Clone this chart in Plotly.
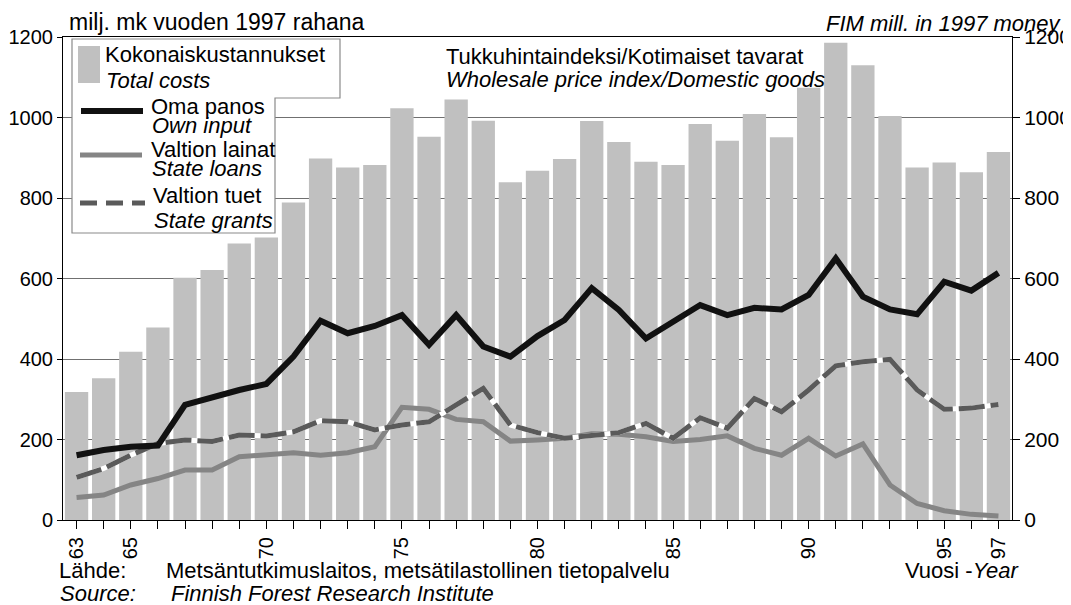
import plotly.graph_objects as go

# ---------------- data ----------------
years = list(range(63, 98))
tick_years = [63, 65, 70, 75, 80, 85, 90, 95, 97]

total_costs = [318, 352, 418, 478, 602, 621, 687, 702, 789, 898,
               876, 882, 1023, 952, 1045, 992, 839, 868, 897, 991,
               939, 890, 882, 984, 942, 1009, 951, 1074, 1186, 1130,
               1004, 876, 888, 864, 914]
own_input = [161, 174, 182, 185, 286, 306, 323, 338, 406, 495,
             464, 482, 509, 435, 509, 431, 406, 457, 497, 576,
             522, 451, 493, 534, 509, 527, 523, 559, 650, 555,
             523, 511, 592, 570, 614]
state_loans = [56, 62, 87, 103, 124, 124, 157, 161, 167, 161,
               167, 182, 280, 275, 250, 244, 196, 199, 203, 214,
               213, 207, 195, 200, 209, 178, 161, 203, 159, 189,
               87, 41, 23, 14, 10]
state_grants = [106, 128, 161, 190, 199, 195, 211, 209, 219, 247,
                244, 224, 236, 244, 286, 327, 236, 217, 203, 209,
                217, 240, 203, 254, 228, 302, 269, 323, 383, 393,
                399, 323, 275, 278, 287]

y_ticks = [0, 200, 400, 600, 800, 1000, 1200]

# ---------------- geometry ----------------
# the page body has an 8px default margin, so the figure is offset by 8px
OFF = 8
W, H = 1063, 597
L, R, T, B = 55, 59, 29, 85
PW, PH = W - L - R, H - T - B
FONT = "Liberation Sans, Arial, Helvetica, sans-serif"

def px(x):
    return (x - OFF - L) / PW

def py(y):
    return (H - B - (y - OFF)) / PH

BAR = "#c0c0c0"
BLACK = "#111111"
LOANS = "#858585"
GRANTS = "#5a5a5a"

fig = go.Figure()
fig.add_trace(go.Bar(x=years, y=total_costs, marker=dict(color=BAR, line=dict(width=0)),
                     yaxis="y", showlegend=False, hoverinfo="skip"))
fig.add_trace(go.Scatter(x=years, y=state_loans, mode="lines",
                         line=dict(color=LOANS, width=5), yaxis="y2", showlegend=False))
fig.add_trace(go.Scatter(x=years, y=state_grants, mode="lines",
                         line=dict(color="white", width=5), yaxis="y2", showlegend=False))
fig.add_trace(go.Scatter(x=years, y=state_grants, mode="lines",
                         line=dict(color=GRANTS, width=5, dash="26px,6px"), yaxis="y2", showlegend=False))
fig.add_trace(go.Scatter(x=years, y=own_input, mode="lines",
                         line=dict(color=BLACK, width=6), yaxis="y2", showlegend=False))

shapes = []
# stepped legend box
path = "M {a},{b} L {c},{b} L {c},{d} L {e},{d} L {e},{f} L {a},{f} Z".format(
    a=px(72), b=py(39), c=px(340), d=py(98), e=px(275), f=py(233))
shapes.append(dict(type="path", path=path, xref="paper", yref="paper",
                   fillcolor="white", line=dict(color="#8a8a8a", width=1.2), layer="above"))
shapes.append(dict(type="rect", xref="paper", yref="paper", x0=px(78), x1=px(100), y0=py(83), y1=py(46),
                   fillcolor=BAR, line=dict(width=0), layer="above"))
shapes.append(dict(type="line", xref="paper", yref="paper", x0=px(81), x1=px(143), y0=py(111), y1=py(111),
                   line=dict(color=BLACK, width=6), layer="above"))
shapes.append(dict(type="line", xref="paper", yref="paper", x0=px(80), x1=px(142), y0=py(155), y1=py(155),
                   line=dict(color=LOANS, width=5), layer="above"))
shapes.append(dict(type="line", xref="paper", yref="paper", x0=px(80), x1=px(145), y0=py(203), y1=py(203),
                   line=dict(color=GRANTS, width=5, dash="17px,9px"), layer="above"))

def ann(text, x, y, size=22, xanchor="left", italic=False):
    return dict(text=("<i>%s</i>" % text) if italic else text, x=px(x), y=py(y),
                xref="paper", yref="paper", xanchor=xanchor, yanchor="middle",
                showarrow=False, font=dict(family=FONT, size=size, color="black"))

annotations = [
    ann("milj. mk vuoden 1997 rahana", 67, 22, size=23),
    ann("FIM mill. in 1997 money", 1064, 24, xanchor="right", italic=True),
    ann("Tukkuhintaindeksi/Kotimaiset tavarat", 444, 56),
    ann("Wholesale price index/Domestic goods", 444, 79, italic=True),
    ann("Kokonaiskustannukset", 103, 55),
    ann("Total costs", 104, 80, italic=True),
    ann("Oma panos", 149, 106),
    ann("Own input", 150, 126, italic=True),
    ann("Valtion lainat", 149, 149),
    ann("State loans", 150, 169, italic=True),
    ann("Valtion tuet", 151, 195),
    ann("State grants", 152, 220, italic=True),
    ann("Lähde:", 57, 570),
    ann("Metsäntutkimuslaitos, metsätilastollinen tietopalvelu", 164, 570),
    ann("Source:", 58, 593, italic=True),
    ann("Finnish Forest Research Institute", 169, 593, italic=True),
    ann("Vuosi -<i>Year</i>", 903, 570),
]

fig.update_layout(
    width=W, height=H, autosize=False,
    margin=dict(l=L, r=R, t=T, b=B, pad=0, autoexpand=False),
    paper_bgcolor="white", plot_bgcolor="white",
    bargap=0.14,
    font=dict(family=FONT, color="black"),
    shapes=shapes, annotations=annotations,
    xaxis=dict(range=[62.5, 97.5], tickmode="array", tickvals=years,
               ticktext=[str(y) if y in tick_years else "" for y in years],
               tickangle=-90, ticks="outside", ticklen=8, tickwidth=1, tickcolor="black",
               showline=True, linecolor="black", linewidth=1, mirror=True,
               showgrid=False, zeroline=False, automargin=False,
               tickfont=dict(family=FONT, size=20, color="black")),
    yaxis=dict(range=[0, 1200], tickmode="array", tickvals=y_ticks,
               ticks="outside", ticklen=5, tickwidth=1, tickcolor="black",
               showline=True, linecolor="black", linewidth=1,
               showgrid=True, gridcolor="#707070", gridwidth=1, zeroline=False, automargin=False,
               tickfont=dict(family=FONT, size=20, color="black")),
    yaxis2=dict(range=[0, 1200], tickmode="array", tickvals=y_ticks, overlaying="y", side="right",
                ticks="outside", ticklen=7, tickwidth=1, tickcolor="black",
                showline=True, linecolor="black", linewidth=1,
                showgrid=False, zeroline=False, automargin=False,
                tickfont=dict(family=FONT, size=21, color="black")),
)

fig.write_html("out.html")
